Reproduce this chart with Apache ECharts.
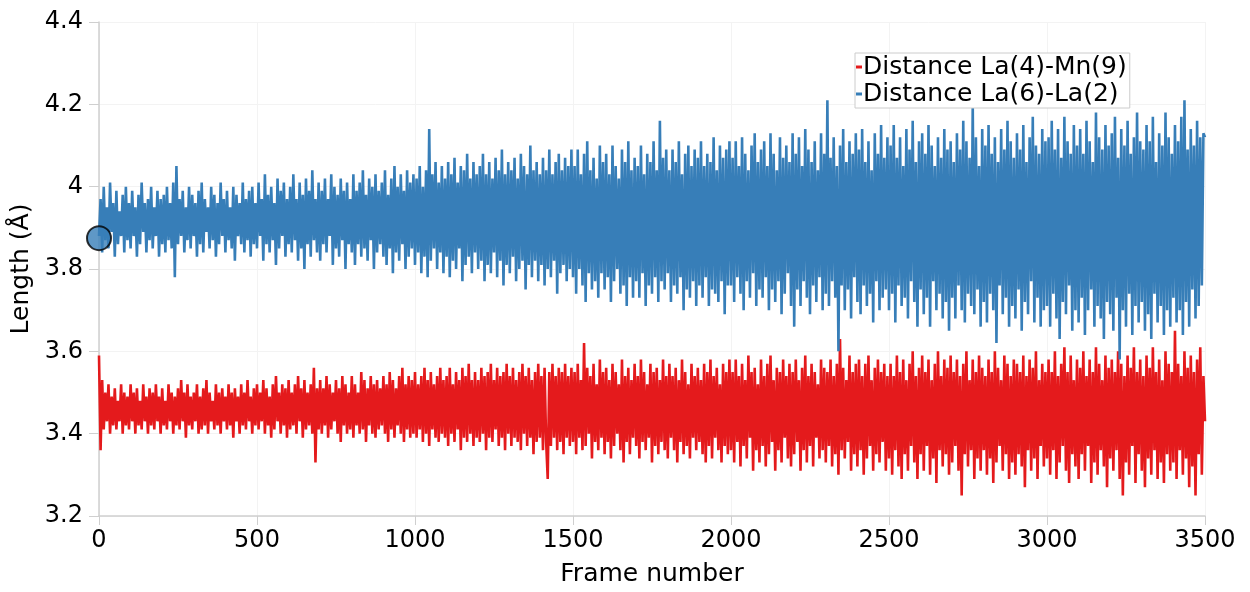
<!DOCTYPE html>
<html>
<head>
<meta charset="utf-8">
<script src="https://cdn.jsdelivr.net/npm/echarts@6/dist/echarts.min.js"></script>
<style>
html,body{margin:0;padding:0;background:#fff;}
#chart{width:1250px;height:592px;}
</style>
</head>
<body>
<div id="chart"></div>
<script>
// Frames covered by the stored samples (every 5th frame, 0..3500)
const firstFrame = 0;
const lastFrame = 3500;

// Distance La(4)-Mn(9), one row = 100 frames
const redValues = [
3.59,3.36,3.53,3.41,3.50,3.43,3.52,3.40,3.49,3.42,3.51,3.41,3.48,3.43,3.52,3.40,3.50,3.42,3.49,3.41,
3.52,3.43,3.50,3.40,3.51,3.42,3.48,3.41,3.52,3.43,3.49,3.40,3.51,3.42,3.50,3.41,3.52,3.43,3.49,3.40,
3.51,3.42,3.48,3.41,3.52,3.43,3.50,3.40,3.49,3.42,3.51,3.41,3.53,3.43,3.50,3.39,3.52,3.42,3.49,3.41,
3.50,3.43,3.52,3.40,3.49,3.41,3.51,3.42,3.53,3.40,3.50,3.43,3.48,3.41,3.52,3.42,3.50,3.40,3.51,3.43,
3.49,3.41,3.52,3.42,3.50,3.39,3.51,3.43,3.49,3.40,3.52,3.42,3.50,3.41,3.53,3.43,3.49,3.40,3.51,3.42,
3.52,3.41,3.50,3.43,3.53,3.40,3.51,3.42,3.49,3.39,3.52,3.41,3.54,3.43,3.50,3.40,3.52,3.42,3.51,3.39,
3.53,3.41,3.50,3.42,3.52,3.40,3.54,3.43,3.51,3.39,3.53,3.41,3.50,3.42,3.52,3.40,3.56,3.33,3.51,3.41,
3.53,3.40,3.51,3.42,3.54,3.39,3.52,3.41,3.50,3.43,3.53,3.40,3.51,3.38,3.54,3.42,3.52,3.40,3.50,3.41,
3.54,3.39,3.52,3.42,3.50,3.40,3.55,3.41,3.53,3.38,3.51,3.42,3.54,3.40,3.52,3.39,3.53,3.41,3.51,3.42,
3.54,3.40,3.52,3.38,3.55,3.41,3.53,3.39,3.51,3.42,3.54,3.40,3.56,3.38,3.52,3.41,3.54,3.39,3.53,3.40,
3.55,3.39,3.52,3.41,3.54,3.38,3.56,3.40,3.53,3.37,3.55,3.41,3.52,3.39,3.54,3.38,3.56,3.40,3.53,3.39,
3.54,3.37,3.56,3.40,3.52,3.38,3.55,3.41,3.53,3.36,3.56,3.39,3.54,3.38,3.57,3.40,3.53,3.37,3.55,3.39,
3.53,3.38,3.56,3.40,3.54,3.36,3.55,3.39,3.57,3.38,3.53,3.41,3.56,3.37,3.54,3.39,3.55,3.36,3.57,3.40,
3.54,3.37,3.56,3.39,3.53,3.38,3.55,3.36,3.57,3.40,3.54,3.37,3.56,3.39,3.53,3.35,3.55,3.38,3.57,3.39,
3.54,3.36,3.56,3.38,3.29,3.55,3.37,3.57,3.39,3.54,3.36,3.56,3.38,3.55,3.35,3.57,3.39,3.54,3.37,3.56,
3.38,3.55,3.35,3.57,3.39,3.53,3.36,3.62,3.37,3.56,3.40,3.54,3.34,3.57,3.38,3.52,3.36,3.58,3.39,3.55,
3.35,3.56,3.38,3.53,3.34,3.57,3.37,3.55,3.40,3.52,3.36,3.58,3.33,3.54,3.38,3.56,3.35,3.53,3.39,3.57,
3.37,3.54,3.34,3.58,3.38,3.55,3.36,3.52,3.39,3.57,3.33,3.55,3.37,3.56,3.35,3.53,3.38,3.58,3.36,3.54,
3.34,3.57,3.39,3.54,3.36,3.56,3.33,3.53,3.38,3.58,3.35,3.55,3.37,3.52,3.34,3.57,3.39,3.54,3.36,3.56,
3.38,3.53,3.35,3.57,3.33,3.55,3.37,3.58,3.34,3.54,3.39,3.56,3.36,3.52,3.33,3.57,3.37,3.55,3.35,3.58,
3.36,3.55,3.33,3.58,3.38,3.54,3.32,3.57,3.37,3.53,3.34,3.59,3.39,3.55,3.31,3.56,3.36,3.52,3.33,3.58,
3.37,3.54,3.32,3.57,3.35,3.59,3.38,3.53,3.31,3.56,3.36,3.55,3.33,3.58,3.39,3.54,3.34,3.57,3.32,3.55,
3.35,3.58,3.38,3.53,3.31,3.56,3.36,3.59,3.33,3.54,3.37,3.57,3.32,3.55,3.39,3.52,3.34,3.58,3.36,3.56,
3.33,3.55,3.37,3.58,3.32,3.54,3.35,3.57,3.30,3.63,3.36,3.56,3.34,3.53,3.38,3.59,3.31,3.55,3.35,3.57,
3.32,3.58,3.36,3.54,3.30,3.57,3.34,3.59,3.37,3.53,3.31,3.56,3.35,3.58,3.33,3.55,3.38,3.57,3.31,3.54,
3.34,3.57,3.30,3.54,3.36,3.59,3.32,3.55,3.29,3.58,3.35,3.53,3.31,3.57,3.37,3.60,3.33,3.54,3.29,3.56,
3.35,3.59,3.31,3.55,3.37,3.58,3.30,3.53,3.34,3.57,3.28,3.60,3.36,3.54,3.32,3.58,3.35,3.56,3.30,3.59,
3.33,3.55,3.37,3.58,3.31,3.54,3.25,3.57,3.35,3.60,3.32,3.53,3.36,3.58,3.29,3.55,3.34,3.59,3.31,3.56,
3.36,3.54,3.30,3.58,3.34,3.55,3.28,3.60,3.33,3.56,3.37,3.53,3.31,3.59,3.35,3.57,3.29,3.54,3.33,3.58,
3.30,3.57,3.35,3.55,3.32,3.59,3.27,3.54,3.36,3.58,3.31,3.56,3.34,3.60,3.29,3.53,3.37,3.57,3.32,3.55,
3.34,3.58,3.30,3.55,3.36,3.60,3.29,3.54,3.33,3.57,3.37,3.61,3.31,3.55,3.28,3.59,3.35,3.53,3.32,3.58,
3.29,3.56,3.35,3.60,3.31,3.54,3.37,3.58,3.28,3.55,3.33,3.61,3.30,3.57,3.36,3.53,3.32,3.59,3.27,3.56,
3.34,3.58,3.31,3.55,3.36,3.60,3.29,3.57,3.25,3.54,3.33,3.59,3.30,3.56,3.37,3.61,3.28,3.55,3.35,3.58,
3.31,3.54,3.27,3.59,3.34,3.56,3.30,3.61,3.36,3.55,3.29,3.58,3.33,3.53,3.28,3.60,3.35,3.57,3.31,3.55,
3.33,3.65,3.29,3.57,3.36,3.54,3.30,3.60,3.34,3.56,3.27,3.59,3.32,3.55,3.25,3.58,3.35,3.61,3.30,3.54,
3.43
];

// Distance La(6)-La(2), one row = 100 frames
const blueValues = [
3.88,3.97,3.84,4.00,3.87,3.95,3.85,4.01,3.89,3.96,3.83,3.99,3.86,3.94,3.88,3.98,3.84,4.00,3.87,3.96,
3.85,3.99,3.88,3.95,3.83,3.98,3.86,4.01,3.89,3.96,3.84,3.97,3.87,4.00,3.85,3.95,3.88,3.99,3.83,3.97,
3.86,3.98,3.84,4.00,3.87,3.96,3.85,4.01,3.78,4.05,3.86,3.97,3.88,3.99,3.84,3.95,3.87,4.00,3.85,3.98,
3.88,3.96,3.83,3.99,3.86,4.01,3.84,3.97,3.89,3.95,3.85,4.00,3.87,3.98,3.83,3.96,3.86,4.01,3.88,3.97,
3.84,3.99,3.87,3.95,3.85,4.00,3.82,3.98,3.88,3.96,3.86,4.01,3.84,3.97,3.87,3.99,3.83,4.00,3.86,3.96,
3.85,4.01,3.88,3.97,3.82,4.03,3.86,3.98,3.84,4.00,3.87,3.96,3.81,4.02,3.85,3.99,3.88,4.01,3.83,3.97,
3.86,4.00,3.84,4.03,3.87,3.97,3.82,4.01,3.85,3.98,3.80,4.02,3.86,3.99,3.83,4.04,3.87,3.97,3.84,4.01,
3.82,3.99,3.86,4.02,3.84,3.97,3.88,4.03,3.81,4.00,3.85,3.98,3.83,4.02,3.87,3.99,3.80,4.01,3.86,3.97,
3.84,4.03,3.81,3.99,3.86,4.01,3.83,4.04,3.85,3.98,3.82,4.02,3.87,4.00,3.80,4.03,3.84,3.99,3.86,4.01,
3.83,4.04,3.81,3.98,3.85,4.02,3.79,4.05,3.84,4.00,3.82,4.03,3.86,3.99,3.80,4.04,3.83,4.01,3.85,4.03,
3.81,4.02,3.84,4.05,3.79,4.00,3.83,4.04,3.78,4.14,3.82,4.03,3.85,4.06,3.80,4.01,3.84,4.05,3.79,4.02,
3.83,4.06,3.78,4.03,3.82,4.07,3.80,4.01,3.85,4.05,3.77,4.04,3.81,4.08,3.83,4.02,3.79,4.06,3.84,4.03,
3.80,4.05,3.82,4.08,3.77,4.03,3.81,4.06,3.79,4.02,3.84,4.07,3.78,4.04,3.82,4.09,3.76,4.03,3.81,4.06,
3.79,4.04,3.83,4.07,3.77,4.02,3.80,4.08,3.82,4.05,3.75,4.03,3.81,4.10,3.78,4.04,3.82,4.06,3.77,4.03,
3.81,4.07,3.76,4.04,3.80,4.09,3.78,4.03,3.82,4.06,3.74,4.08,3.79,4.04,3.81,4.07,3.77,4.05,3.80,4.09,
3.78,4.05,3.74,4.09,3.80,4.03,3.76,4.08,3.72,4.11,3.79,4.04,3.75,4.07,3.77,4.02,3.73,4.10,3.79,4.06,
3.75,4.08,3.78,4.03,3.72,4.10,3.77,4.05,3.80,4.02,3.74,4.09,3.76,4.06,3.71,4.11,3.78,4.04,3.73,4.07,
3.77,4.05,3.73,4.10,3.79,4.03,3.71,4.08,3.76,4.06,3.74,4.11,3.78,4.04,3.72,4.16,3.77,4.07,3.75,4.09,
3.79,4.04,3.72,4.09,3.76,4.06,3.74,4.11,3.78,4.03,3.70,4.08,3.75,4.10,3.73,4.05,3.77,4.09,3.71,4.07,
3.76,4.11,3.73,4.05,3.78,4.08,3.71,4.06,3.75,4.12,3.74,4.04,3.72,4.10,3.77,4.07,3.69,4.09,3.76,4.11,
3.76,4.07,3.72,4.11,3.78,4.05,3.74,4.12,3.70,4.08,3.77,4.04,3.73,4.10,3.79,4.13,3.71,4.06,3.75,4.09,
3.73,4.11,3.78,4.05,3.70,4.13,3.75,4.08,3.72,4.04,3.77,4.12,3.69,4.07,3.74,4.10,3.79,4.06,3.71,4.13,
3.66,4.08,3.75,4.12,3.71,4.05,3.77,4.14,3.73,4.09,3.69,4.06,3.76,4.11,3.72,4.04,3.78,4.13,3.70,4.08,
3.74,4.21,3.71,4.07,3.77,4.12,3.73,4.05,3.60,4.10,3.76,4.14,3.70,4.06,3.75,4.11,3.68,4.08,3.78,4.13,
3.72,4.09,3.69,4.14,3.76,4.06,3.71,4.11,3.74,4.04,3.67,4.13,3.77,4.08,3.70,4.15,3.73,4.07,3.75,4.12,
3.70,4.10,3.74,4.15,3.67,4.07,3.76,4.12,3.71,4.05,3.73,4.14,3.68,4.09,3.77,4.16,3.72,4.06,3.66,4.11,
3.75,4.13,3.69,4.08,3.73,4.15,3.66,4.10,3.77,4.05,3.70,4.12,3.74,4.07,3.68,4.14,3.72,4.09,3.65,4.11,
3.73,4.06,3.68,4.13,3.76,4.09,3.70,4.16,3.67,4.11,3.74,4.07,3.71,4.20,3.69,4.12,3.75,4.05,3.66,4.14,
3.72,4.10,3.67,4.15,3.74,4.08,3.70,4.12,3.62,4.06,3.76,4.14,3.69,4.09,3.73,4.16,3.66,4.11,3.71,4.07,
3.68,4.13,3.75,4.09,3.65,4.15,3.72,4.06,3.69,4.12,3.77,4.17,3.67,4.10,3.73,4.08,3.66,4.14,3.70,4.11,
3.71,4.12,3.66,4.16,3.74,4.09,3.68,4.14,3.63,4.07,3.72,4.17,3.69,4.11,3.76,4.08,3.65,4.15,3.70,4.10,
3.67,4.14,3.73,4.08,3.64,4.16,3.70,4.11,3.75,4.06,3.66,4.18,3.71,4.12,3.68,4.09,3.63,4.15,3.72,4.10,
3.69,4.13,3.65,4.17,3.73,4.07,3.58,4.14,3.70,4.10,3.66,4.16,3.74,4.08,3.64,4.12,3.71,4.18,3.67,4.11,
3.72,4.09,3.65,4.15,3.69,4.11,3.63,4.17,3.74,4.06,3.67,4.13,3.71,4.10,3.64,4.18,3.70,4.12,3.66,4.08,
3.73,4.15,3.67,4.11,3.70,4.17,3.64,4.21,3.72,4.09,3.66,4.14,3.75,4.10,3.68,4.16,3.71,4.12,3.76,4.13,
4.12
];

// Highlighted point (frame, length)
const markerPoint = [0, 3.875];

const seriesNames = ['Distance La(4)-Mn(9)', 'Distance La(6)-La(2)'];
const seriesColors = ['#e41a1c', '#377eb8'];
const xTicks = { min: 0, max: 3500, interval: 500 };
const yTicks = { min: 3.2, max: 4.4, interval: 0.2 };

const toPairs = arr => arr.map((v, i) => [firstFrame + i * (lastFrame - firstFrame) / (arr.length - 1), v]);

const FONT = 'DejaVu Sans';
const chart = echarts.init(document.getElementById('chart'), null, { renderer: 'canvas' });
chart.setOption({
  animation: false,
  backgroundColor: '#ffffff',
  textStyle: { fontFamily: FONT },
  grid: { left: 99, right: 45, top: 22, bottom: 70, containLabel: false },
  legend: {
    data: seriesNames,
    orient: 'vertical',
    left: 855,
    top: 53,
    icon: 'rect',
    itemWidth: 6,
    itemHeight: 3,
    itemGap: 1,
    padding: [1, 3, 1, 1],
    backgroundColor: '#ffffff',
    borderColor: '#cccccc',
    borderWidth: 1,
    textStyle: { fontFamily: FONT, fontSize: 25, lineHeight: 26, color: '#000', padding: [0, 0, 0, -4] }
  },
  xAxis: {
    type: 'value',
    min: xTicks.min, max: xTicks.max, interval: xTicks.interval,
    name: 'Frame number',
    nameLocation: 'middle',
    nameGap: 46,
    nameTextStyle: { fontFamily: FONT, fontSize: 25, color: '#000' },
    axisLine: { show: true, lineStyle: { color: '#cfcfcf', width: 1.5 } },
    axisTick: { show: true, length: 9, lineStyle: { color: '#cfcfcf' } },
    axisLabel: { fontFamily: FONT, fontSize: 24, color: '#000', margin: 13,
      formatter: v => String(v) },
    splitLine: { show: true, lineStyle: { color: '#f3f3f3', width: 1 } }
  },
  yAxis: {
    type: 'value',
    min: yTicks.min, max: yTicks.max, interval: yTicks.interval,
    name: 'Length (Å)',
    nameLocation: 'middle',
    nameGap: 57,
    nameTextStyle: { fontFamily: FONT, fontSize: 25, color: '#000' },
    axisLine: { show: true, lineStyle: { color: '#cfcfcf', width: 1.5 } },
    axisTick: { show: true, length: 10, lineStyle: { color: '#cfcfcf' } },
    axisLabel: { fontFamily: FONT, fontSize: 24, color: '#000', margin: 16,
      formatter: v => String(+v.toFixed(1)) },
    splitLine: { show: true, lineStyle: { color: '#f3f3f3', width: 1 } }
  },
  series: [
    {
      name: seriesNames[0], type: 'line', data: toPairs(redValues),
      showSymbol: false, symbol: 'none', color: seriesColors[0],
      lineStyle: { color: seriesColors[0], width: 2.6, join: 'bevel' }, z: 2
    },
    {
      name: seriesNames[1], type: 'line', data: toPairs(blueValues),
      showSymbol: false, symbol: 'none', color: seriesColors[1],
      lineStyle: { color: seriesColors[1], width: 2.6, join: 'bevel' }, z: 3
    },
    {
      name: 'marker', type: 'scatter', data: [markerPoint],
      symbol: 'circle', symbolSize: 24, z: 5,
      itemStyle: { color: seriesColors[1], borderColor: '#000', borderWidth: 2 }
    }
  ]
});
</script>
</body>
</html>
